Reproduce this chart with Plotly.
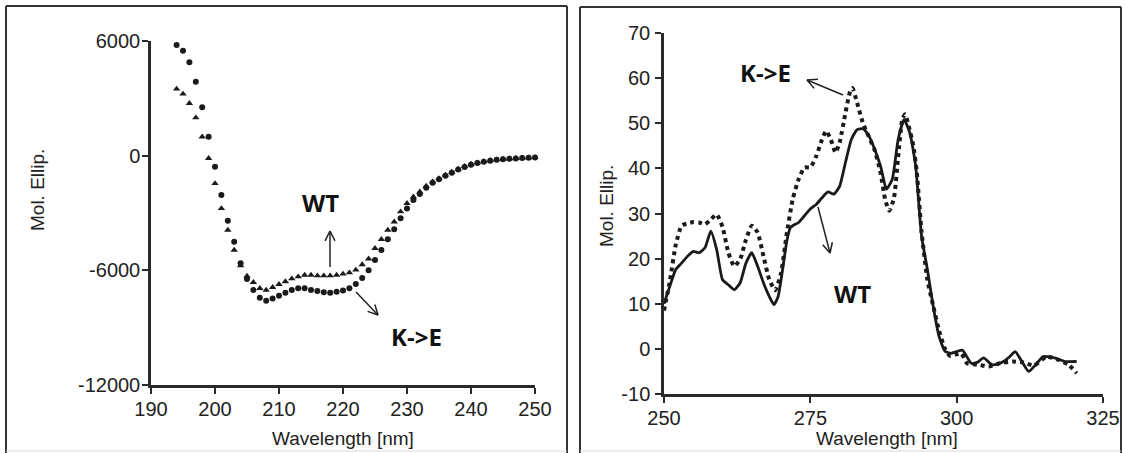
import math
import plotly.graph_objects as go

W, H = 1125, 453

# ---------------- Far-UV CD (left panel) ----------------
far_nm = list(range(194, 251))
far_wt = [3490, 3230, 2740, 1990, 990, -140, -1450, -2760, -3890, -4940,
          -5750, -6300, -6630, -6940, -7030, -6890, -6730, -6590, -6440, -6330,
          -6250, -6250, -6280, -6280, -6280, -6250, -6190, -6120, -5980, -5700,
          -5400, -4850, -4380, -3890, -3460, -2930, -2490, -2150, -1890, -1590,
          -1360, -1190, -1010, -860, -700, -560, -440, -370, -300, -240,
          -210, -175, -160, -140, -120, -105, -90]
far_ke = [5790, 5490, 4890, 3870, 2530, 990, -580, -2060, -3400, -4500,
          -5630, -6450, -7030, -7430, -7590, -7470, -7330, -7170, -7030, -6940,
          -6940, -7030, -7080, -7150, -7170, -7120, -7060, -6940, -6720, -6400,
          -6000, -5460, -4940, -4380, -3850, -3280, -2760, -2320, -2000, -1680,
          -1420, -1230, -1050, -890, -730, -590, -470, -390, -320, -260,
          -220, -185, -165, -145, -125, -110, -95]
far_xticks = [190, 200, 210, 220, 230, 240, 250]
far_yticks = [-12000, -6000, 0, 6000]
far_ytext = ["-12000", "-6000", "0", "6000"]

# ---------------- Near-UV CD (right panel) ----------------
near_ke_nm = [250, 251, 252, 253, 254, 255, 256, 257, 258, 259, 260, 261, 262, 263,
              264, 265, 266, 267, 268, 269, 270, 271, 272, 273, 274, 275, 276, 277,
              277.7, 278.5, 279.3, 280, 281, 281.8, 282.2, 283, 284, 285, 286, 287,
              287.8, 288.5, 289.3, 290, 290.7, 291.2, 291.8, 292.6, 293.2, 294, 295,
              296, 297, 298, 298.8, 300, 300.8, 301.8, 303.7, 305.5, 307.4, 309.6,
              311.4, 313.2, 315.4, 317.3, 319.1, 320.5]
near_ke = [8.5, 15, 23, 27.3, 27.8, 28.1, 28, 27.6, 28.7, 29.8, 27, 21.3, 18.3, 19.8,
           24.2, 27.3, 25.8, 20.5, 15.3, 13, 16.8, 25.8, 33.2, 37.6, 40.2, 40.2, 42.7, 46.4,
           48.3, 46.4, 43.5, 45.7, 52.3, 57.1, 57.8, 54.5, 50, 47, 44, 39,
           33, 30.6, 33.5, 42.5, 50.8, 52, 49.4, 45, 39, 26, 15.3,
           9.5, 4, 0, -1.5, -1.2, -1.0, -3.2, -3.5, -3.9, -3.2, -2.8,
           -3.0, -3.7, -1.7, -2.4, -3.5, -5.4]
near_wt_nm = [250, 251, 252, 253, 254, 255, 256, 257, 258, 259, 260, 261, 262, 263,
              264, 265, 266, 267, 268, 268.8, 269.5, 270, 271, 271.6, 272, 273, 274,
              275, 276, 277, 278, 279, 280, 281, 282, 283, 284, 285, 286, 287, 288,
              289, 290, 291, 292, 293, 294, 295, 296, 297, 298, 299, 300, 301, 302.5,
              303.5, 304.6, 306, 307, 308, 309, 310, 311, 312.3, 313.5, 314.8, 316.7,
              318.5, 320.5]
near_wt = [10, 13.9, 17.6, 19, 20.5, 21.6, 21.3, 22.4, 26.1, 22, 15.3, 14.2, 13.1, 14.6,
           19, 21.3, 18.3, 14.6, 11.6, 9.8, 11.6, 15.3, 24, 26.9, 27.3, 28, 29.5,
           31, 32, 33.5, 34.8, 34.3, 36, 41.3, 46.4, 48.6, 48.8, 47.2, 44.2, 40.5, 35.4,
           37.6, 46.4, 50.8, 47.9, 40.5, 25, 17.6, 9.4, 2.7, -0.5, -1, -0.6, -0.3, -3.2,
           -3.0, -2.0, -3.5, -3.4, -2.8, -1.8, -0.6, -2.5, -5, -3.5, -1.7, -2.0,
           -2.8, -2.8]
near_xticks = [250, 275, 300, 325]
near_yticks = [-10, 0, 10, 20, 30, 40, 50, 60, 70]
near_ytext = ["-10", "0", "10", "20", "30", "40", "50", "60", "70"]

INK = "#1a1a1a"
TICK_FONT = dict(family="Liberation Sans, Arial, sans-serif", size=20, color="#222")
LBL_FONT = dict(family="Open Sans, sans-serif", size=24, color="#111")


def fx(p):
    return p / W


def fy(p):
    return 1 - p / H


fig = go.Figure()

fig.add_trace(go.Scatter(x=far_nm, y=far_wt, mode="markers", name="WT",
                         marker=dict(symbol="triangle-up", size=6.5, color=INK),
                         xaxis="x", yaxis="y", cliponaxis=False))
fig.add_trace(go.Scatter(x=far_nm, y=far_ke, mode="markers", name="K->E",
                         marker=dict(symbol="circle", size=6, color=INK),
                         xaxis="x", yaxis="y", cliponaxis=False))

fig.add_trace(go.Scatter(x=near_wt_nm, y=near_wt, mode="lines", name="WT",
                         line=dict(color=INK, width=2.8, shape="spline", smoothing=0.5),
                         xaxis="x2", yaxis="y2"))
fig.add_trace(go.Scatter(x=near_ke_nm, y=near_ke, mode="lines", name="K->E",
                         line=dict(color=INK, width=4, dash="dot", shape="spline", smoothing=0.5),
                         xaxis="x2", yaxis="y2"))

axis_common = dict(showline=True, linewidth=2.5, linecolor="#2a2a2a", ticks="outside",
                   ticklen=6, tickwidth=2, tickcolor="#2a2a2a", showgrid=False,
                   zeroline=False, tickfont=TICK_FONT, mirror=False, automargin=False)

fig.update_layout(
    template="none",
    width=W, height=H,
    margin=dict(l=0, r=0, t=0, b=0, pad=0),
    paper_bgcolor="white", plot_bgcolor="white",
    showlegend=False,
    xaxis=dict(domain=[fx(151), fx(535)], range=[190, 250], tickvals=far_xticks,
               anchor="y", ticklabelstandoff=-2, **axis_common),
    yaxis=dict(domain=[fy(385), fy(41)], range=[-12000, 6000], tickvals=far_yticks,
               ticktext=far_ytext, anchor="x", ticklabelstandoff=-2, **axis_common),
    xaxis2=dict(domain=[fx(664), fx(1103)], range=[250, 325], tickvals=near_xticks,
                anchor="y2", ticklabelstandoff=-2, **axis_common),
    yaxis2=dict(domain=[fy(394), fy(33)], range=[-10, 70], tickvals=near_yticks,
                ticktext=near_ytext, anchor="x2", ticklabelstandoff=1, **axis_common),
)

TITLE_FONT = dict(family="Liberation Sans, Arial, sans-serif", size=19, color="#222")
annots = [
    dict(text="Wavelength [nm]", x=fx(343), y=fy(438), font=TITLE_FONT),
    dict(text="Wavelength [nm]", x=fx(887), y=fy(438), font=TITLE_FONT),
    dict(text="Mol. Ellip.", x=fx(38), y=fy(190), font=TITLE_FONT, textangle=-90),
    dict(text="Mol. Ellip.", x=fx(606), y=fy(206), font=TITLE_FONT, textangle=-90),
    dict(text="<b>WT</b>", x=fx(320), y=fy(202), font=LBL_FONT),
    dict(text="<b>K->E</b>", x=fx(416), y=fy(336), font=LBL_FONT),
    dict(text="<b>K->E</b>", x=fx(765), y=fy(73), font=LBL_FONT),
    dict(text="<b>WT</b>", x=fx(852), y=fy(293), font=LBL_FONT),
]
for a in annots:
    a.update(xref="paper", yref="paper", showarrow=False, xanchor="center", yanchor="middle")
    fig.add_annotation(**a)

shapes = []


def pline(x0, y0, x1, y1, color="#222", width=1.5):
    shapes.append(dict(type="line", xref="paper", yref="paper",
                       x0=fx(x0), y0=fy(y0), x1=fx(x1), y1=fy(y1),
                       line=dict(color=color, width=width)))


def arrow(tx, ty, hx, hy, arm=11, ang=27):
    pline(tx, ty, hx, hy)
    d = math.atan2(ty - hy, tx - hx)
    for s in (-1, 1):
        a = d + s * math.radians(ang)
        pline(hx, hy, hx + arm * math.cos(a), hy + arm * math.sin(a))


arrow(330, 267, 330, 231)
arrow(356, 292, 378, 315)
arrow(843, 95, 807, 80)
arrow(818, 207, 830, 253)

# panel frames
BORDER = "#333"
pline(6, 6, 6, 453, BORDER, 2)
pline(6, 6, 567, 6, BORDER, 2)
pline(567, 6, 567, 453, BORDER, 2)
pline(580, 7, 580, 453, BORDER, 2)
pline(580, 7, 1121, 7, BORDER, 2)
pline(1121, 7, 1121, 453, BORDER, 2)
pline(6, 451, 567, 451, "#dddddd", 1)
pline(580, 451, 1121, 451, "#dddddd", 1)

fig.update_layout(shapes=shapes)

fig.write_html("out.html",
               config={"displayModeBar": False},
               post_script="document.body.style.margin='0px';document.body.style.padding='0px';document.body.style.overflow='hidden';")
